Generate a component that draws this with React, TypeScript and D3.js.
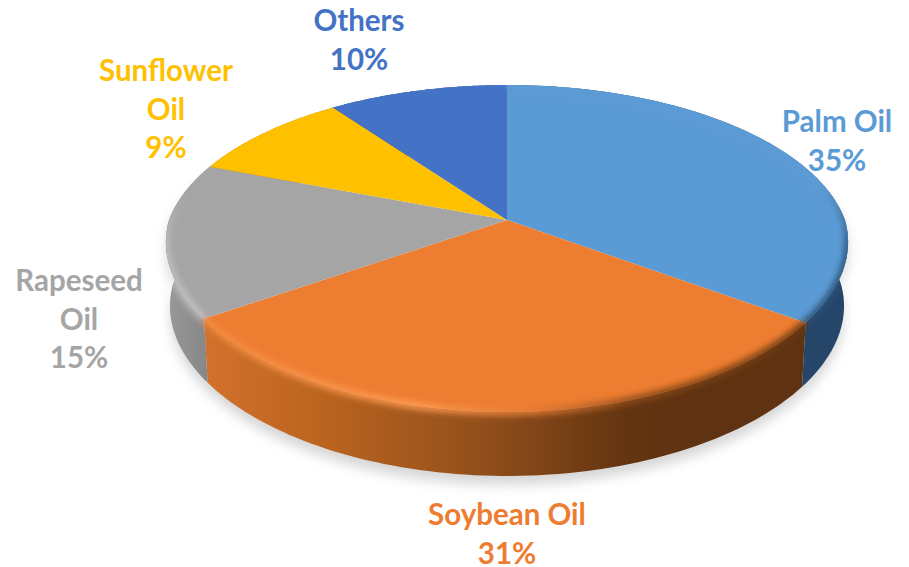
import React from "react";
import * as d3 from "d3";

const categories = ["Palm Oil", "Soybean Oil", "Rapeseed Oil", "Sunflower Oil", "Others"];
const values = [34.9, 30.6, 15.3, 9.2, 10];
const colors = ["#5B9BD5", "#ED7D31", "#A5A5A5", "#FFC000", "#4472C4"];
const labelLines = [["Palm Oil"], ["Soybean Oil"], ["Rapeseed", "Oil"], ["Sunflower", "Oil"], ["Others"]];
const labelCenters = [[837, 132], [507, 525], [79, 291], [166, 81], [359, 31]];
const lineGap = 38.5;

const W = 909, H = 567;
const cx = 507, cy = 220, B = 338, A = 158.5, P = 0.1743;
const depth = 64, wallShrink = 0.988, frontNarrow = 0.04;

// perspective projection of a point on the pie's circle; a = clockwise angle from the back
const proj = (a: number, lift = 0, k = 1): [number, number] => {
  const u = Math.sin(a), v = -Math.cos(a);
  const s = 1 / (1 - P * v);
  const n = 1 - frontNarrow * Math.max(v, 0);
  return [cx + k * n * B * u * s, cy + A * v * s + lift];
};
const arcPts = (a0: number, a1: number, lift = 0, k = 1) =>
  d3.range(0, 81).map((i) => proj(a0 + ((a1 - a0) * i) / 80, lift, k));
const line = d3.line<[number, number]>().x((d) => d[0]).y((d) => d[1]);

// the side wall as a run of small quads, so that its silhouette follows the tangent between rims
const wallPath = (a0: number, a1: number) => {
  const t = arcPts(a0, a1);
  const b = arcPts(a0, a1, depth, wallShrink);
  return d3
    .range(0, t.length - 1)
    .map((i) => line([t[i], t[i + 1], b[i + 1], b[i]])! + "Z")
    .join("");
};

const pie = d3.pie<number>().sort(null)(values);
const TAU = Math.PI * 2;
const full = line(arcPts(0, TAU))! + "Z";
const fullBottom = line(arcPts(0, TAU, depth, wallShrink))! + "Z";
const fullWall = wallPath(0, TAU);

const wallFill = ["#254669", "url(#wallOrange)", "url(#wallGrey)", "#b58a10", "#2f5597"];
const rimStroke = ["url(#rimBlue)", "url(#rimOrange)", "url(#rimGrey)", "none", "none"];

export default function App() {
  return (
    <svg width={W} height={H} style={{ position: "absolute", left: 0, top: 0, background: "#fff" }}>
      <defs>
        <filter id="shadow" x="-10%" y="-10%" width="120%" height="120%">
          <feGaussianBlur stdDeviation="6" />
        </filter>
        <filter id="soft" x="-10%" y="-10%" width="120%" height="120%">
          <feGaussianBlur stdDeviation="3" />
        </filter>
        <clipPath id="silhouette">
          <path d={full} />
          <path d={fullWall} />
        </clipPath>
        <linearGradient id="wallOrange" gradientUnits="userSpaceOnUse" x1={205} x2={700} y1={0} y2={0}>
          <stop offset="0" stopColor="#D2712C" />
          <stop offset="0.25" stopColor="#B9631F" />
          <stop offset="0.55" stopColor="#93501B" />
          <stop offset="0.85" stopColor="#643411" />
          <stop offset="1" stopColor="#5F3211" />
        </linearGradient>
        <linearGradient id="wallGrey" gradientUnits="userSpaceOnUse" x1={165} x2={210} y1={0} y2={0}>
          <stop offset="0" stopColor="#999999" />
          <stop offset="1" stopColor="#868686" />
        </linearGradient>
        <linearGradient id="rimOrange" gradientUnits="userSpaceOnUse" x1={205} x2={806} y1={0} y2={0}>
          <stop offset="0" stopColor="#F38A3F" />
          <stop offset="0.35" stopColor="#FF9C55" />
          <stop offset="0.55" stopColor="#E07A33" />
          <stop offset="0.72" stopColor="#8A4A1A" />
          <stop offset="1" stopColor="#6A3813" />
        </linearGradient>
        <linearGradient id="rimGrey" gradientUnits="userSpaceOnUse" x1={0} x2={0} y1={190} y2={320}>
          <stop offset="0" stopColor="#A5A5A5" />
          <stop offset="0.4" stopColor="#BDBDBD" />
          <stop offset="1" stopColor="#C4C4C4" />
        </linearGradient>
        <linearGradient id="rimBlue" gradientUnits="userSpaceOnUse" x1={0} x2={0} y1={185} y2={250}>
          <stop offset="0" stopColor="#5B9BD5" />
          <stop offset="1" stopColor="#2A4F75" />
        </linearGradient>
      </defs>

      <path d={fullWall} fill="#9a9a9a" opacity={0.4} transform="translate(0,9)" filter="url(#shadow)" />

      <g>
        {pie.map((s, i) => (
          <path key={categories[i]} d={wallPath(s.startAngle, s.endAngle)} fill={wallFill[i]} />
        ))}
      </g>

      <g>
        {pie.map((s, i) => (
          <path
            key={categories[i]}
            d={line([[cx, cy], ...arcPts(s.startAngle, s.endAngle)])! + "Z"}
            fill={colors[i]}
          />
        ))}
      </g>

      <g clipPath="url(#silhouette)">
        {pie.map((s, i) =>
          rimStroke[i] === "none" ? null : (
            <path
              key={categories[i]}
              d={line(arcPts(s.startAngle, s.endAngle))!}
              fill="none"
              stroke={rimStroke[i]}
              strokeWidth={7}
              filter="url(#soft)"
            />
          )
        )}
      </g>

      <g fontFamily="Lato, sans-serif" fontWeight={700} fontSize={29.5} textAnchor="middle">
        {categories.map((c, i) => {
          const lines = [...labelLines[i], `${Math.round(values[i])}%`];
          const [lx, ly] = labelCenters[i];
          return (
            <text key={c} fill={colors[i]}>
              {lines.map((t, j) => (
                <tspan key={j} x={lx} y={ly + j * lineGap}>
                  {t}
                </tspan>
              ))}
            </text>
          );
        })}
      </g>
    </svg>
  );
}
